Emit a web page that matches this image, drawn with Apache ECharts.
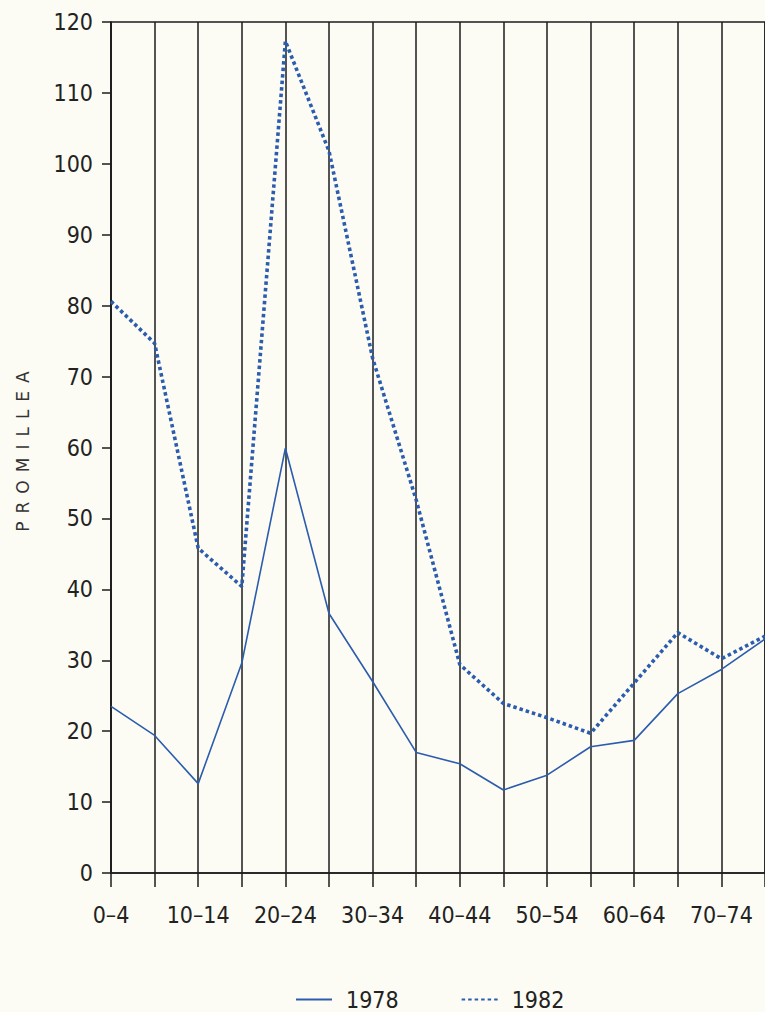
<!DOCTYPE html>
<html>
<head>
<meta charset="utf-8">
<script src="https://cdn.jsdelivr.net/npm/echarts@6/dist/echarts.min.js"></script>
<style>
  html, body { margin: 0; padding: 0; background: #fcfcf4; }
  #chart { width: 765px; height: 1012px; }
</style>
</head>
<body>
<div id="chart"></div>
<script>
// Age groups (five-year bands)
const ageGroups = ['0–4', '5–9', '10–14', '15–19', '20–24', '25–29', '30–34', '35–39',
                   '40–44', '45–49', '50–54', '55–59', '60–64', '65–69', '70–74', '75–79'];
// Rates per mille by age group
const rates1978 = [23.5, 19.4, 12.6, 29.6, 59.9, 36.6, 27.0, 17.0, 15.4, 11.7, 13.8, 17.8, 18.7, 25.3, 28.7, 33.0];
const rates1982 = [80.6, 74.7, 45.8, 40.4, 117.3, 101.8, 72.6, 52.6, 29.4, 23.9, 21.9, 19.7, 26.8, 33.9, 30.2, 33.4];
const yTicks = { min: 0, max: 120, interval: 10 };
const yName = 'PROMILLEA';

const ink = '#1c1c1c';
const blue = '#2c5cad';
const numFont = '"DejaVu Sans Condensed", "Liberation Sans Narrow", sans-serif';

const chart = echarts.init(document.getElementById('chart'), null, { renderer: 'svg' });

chart.setOption({
  backgroundColor: '#fcfcf4',
  animation: false,
  grid: {
    left: 111, top: 22, width: 655, height: 851,
    show: true, borderColor: ink, borderWidth: 1.5, backgroundColor: 'transparent'
  },
  legend: {
    left: 290, top: 983,
    itemWidth: 36, itemHeight: 14, itemGap: 62,
    itemStyle: { opacity: 0 },
    textStyle: { fontFamily: numFont, fontSize: 23, color: '#222', padding: [0, 0, 0, 9] },
    data: ['1978', '1982']
  },
  xAxis: {
    type: 'category',
    data: ageGroups,
    boundaryGap: false,
    axisLine: { lineStyle: { color: ink, width: 1.5 } },
    axisTick: { show: true, interval: 0, length: 14, lineStyle: { color: ink, width: 1.5 } },
    axisLabel: { interval: 1, margin: 30, fontFamily: numFont, fontSize: 23, color: '#222' },
    splitLine: { show: true, interval: 0, lineStyle: { color: ink, width: 1.5 } }
  },
  yAxis: {
    type: 'value',
    min: yTicks.min, max: yTicks.max, interval: yTicks.interval,
    name: yName,
    nameLocation: 'middle',
    nameRotate: 90,
    nameGap: 80,
    nameTextStyle: { fontFamily: '"DejaVu Sans", sans-serif', fontSize: 17, color: '#333' },
    axisLine: { show: true, lineStyle: { color: ink, width: 1.5 } },
    axisTick: { show: true, length: 9, lineStyle: { color: ink, width: 1.5 } },
    axisLabel: { margin: 18, fontFamily: numFont, fontSize: 23, color: '#222' },
    splitLine: { show: false }
  },
  series: [
    {
      name: '1978', type: 'line', data: rates1978,
      symbol: 'none', z: 3,
      lineStyle: { color: blue, width: 1.6, type: 'solid' },
      itemStyle: { color: blue }
    },
    {
      name: '1982', type: 'line', data: rates1982,
      symbol: 'none', z: 4,
      lineStyle: { color: blue, width: 3.6, type: [3.5, 3], cap: 'butt' },
      itemStyle: { color: blue }
    }
  ]
});

// Spread the letters of the vertical axis title
function spreadTitle() {
  document.querySelectorAll('#chart text').forEach(function (t) {
    if (t.textContent === yName) t.style.letterSpacing = '8px';
  });
}
chart.on('finished', spreadTitle);
spreadTitle();
</script>
</body>
</html>
